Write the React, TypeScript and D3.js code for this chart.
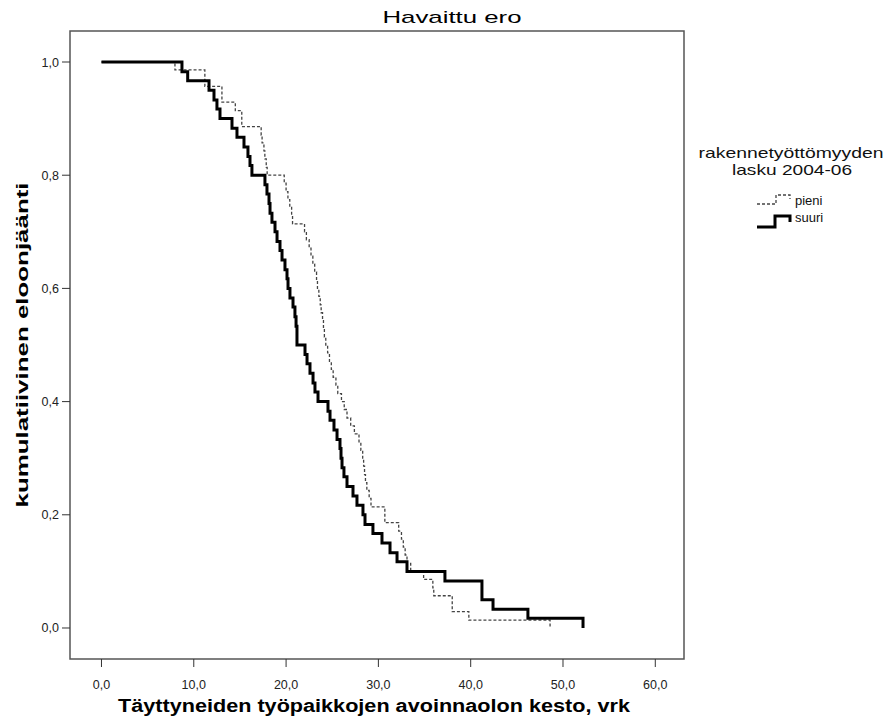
import React from "react";
import * as d3 from "d3";

// Kaplan-Meier step points: time (vrk) at which survival drops to the given value
const suuriTimes = [0, 8.72, 9.34, 11.65, 12.19, 12.51, 12.84, 14.14, 14.68, 15.44, 15.87, 16.09, 16.3, 17.71, 17.93, 18.15, 18.26, 18.47, 18.8, 19.02, 19.34, 19.56, 19.88, 20.1, 20.21, 20.42, 20.75, 20.96, 21.08, 21.18, 22.05, 22.27, 22.59, 22.92, 23.13, 23.46, 24.54, 24.76, 25.19, 25.52, 25.84, 25.95, 26.06, 26.27, 26.6, 27.25, 27.68, 28.33, 28.55, 29.41, 30.39, 31.26, 32.02, 33.1, 37.21, 41.22, 42.42, 46.2, 52.17];
const suuriSurv = [1.0, 0.983, 0.967, 0.95, 0.933, 0.917, 0.9, 0.883, 0.867, 0.85, 0.833, 0.817, 0.8, 0.783, 0.767, 0.75, 0.733, 0.717, 0.7, 0.683, 0.667, 0.65, 0.633, 0.617, 0.6, 0.583, 0.567, 0.55, 0.533, 0.5, 0.483, 0.467, 0.45, 0.433, 0.417, 0.4, 0.383, 0.367, 0.35, 0.333, 0.317, 0.3, 0.283, 0.267, 0.25, 0.233, 0.217, 0.2, 0.183, 0.167, 0.15, 0.133, 0.117, 0.1, 0.083, 0.05, 0.033, 0.017, 0.0];

const pieniTimes = [0, 7.96, 11.2, 13.05, 14.5, 15.2, 17.3, 17.4, 17.6, 17.7, 17.85, 17.95, 19.8, 20.0, 20.2, 20.4, 20.6, 20.7, 22.0, 22.2, 22.5, 22.7, 22.9, 23.1, 23.3, 23.4, 23.55, 23.7, 23.8, 23.95, 24.05, 24.15, 24.3, 24.5, 24.7, 24.9, 25.1, 25.4, 25.6, 26.0, 26.3, 26.6, 27.0, 27.4, 27.9, 28.1, 28.3, 28.4, 28.5, 28.6, 28.75, 29.0, 29.2, 30.7, 32.2, 32.5, 32.7, 32.9, 33.1, 33.5, 34.9, 35.9, 36.0, 38.0, 39.8, 48.6];
const pieniSurv = [1.0, 0.986, 0.957, 0.929, 0.914, 0.886, 0.871, 0.857, 0.843, 0.829, 0.814, 0.8, 0.786, 0.771, 0.757, 0.743, 0.729, 0.714, 0.7, 0.686, 0.671, 0.657, 0.643, 0.629, 0.614, 0.6, 0.586, 0.571, 0.557, 0.543, 0.529, 0.514, 0.5, 0.486, 0.471, 0.457, 0.443, 0.429, 0.414, 0.4, 0.386, 0.371, 0.357, 0.343, 0.329, 0.314, 0.3, 0.286, 0.271, 0.257, 0.243, 0.229, 0.214, 0.186, 0.171, 0.157, 0.143, 0.129, 0.114, 0.1, 0.086, 0.071, 0.057, 0.029, 0.014, 0.0];

const xTicks = [0, 10, 20, 30, 40, 50, 60];
const yTicks = [0, 0.2, 0.4, 0.6, 0.8, 1.0];
const legendLabels = ["pieni", "suuri"];

const fmt = (v: number) => v.toFixed(1).replace(".", ",");

export default function App() {
  const W = 890, H = 724;
  const L = 70, R = 684, T = 31, B = 659;
  const x = d3.scaleLinear().domain([-3.41, 63.11]).range([L, R]);
  const y = d3.scaleLinear().domain([-0.0548, 1.0548]).range([B, T]);
  const line = d3.line<[number, number]>().x(d => x(d[0])).y(d => y(d[1])).curve(d3.curveStepAfter);
  const suuri: [number, number][] = suuriTimes.map((t, i) => [t, suuriSurv[i]]);
  const pieni: [number, number][] = pieniTimes.map((t, i) => [t, pieniSurv[i]]);
  const font = "'Liberation Sans', Arial, sans-serif";

  return (
    <svg width={W} height={H} style={{ position: "absolute", left: 0, top: 0, background: "#fff" }} fontFamily={font}>
      <rect x={0} y={0} width={W} height={H} fill="#fff" />
      <text x={452} y={23} textAnchor="middle" fontSize={17} fill="#000" textLength={139} lengthAdjust="spacingAndGlyphs">Havaittu ero</text>
      {/* frame */}
      <rect x={L} y={T} width={R - L} height={B - T} fill="none" stroke="#555" strokeWidth={1.5} />
      {/* y ticks */}
      {yTicks.map(v => (
        <g key={"y" + v}>
          <line x1={L - 8} x2={L} y1={y(v)} y2={y(v)} stroke="#333" strokeWidth={1} />
          <text x={L - 11} y={y(v) + 4.5} textAnchor="end" fontSize={12.5} fill="#222">{fmt(v)}</text>
        </g>
      ))}
      {/* x ticks */}
      {xTicks.map(v => (
        <g key={"x" + v}>
          <line x1={x(v)} x2={x(v)} y1={B} y2={B + 8} stroke="#333" strokeWidth={1} />
          <text x={x(v)} y={B + 30} textAnchor="middle" fontSize={12.5} fill="#222">{fmt(v)}</text>
        </g>
      ))}
      <text x={374} y={712} textAnchor="middle" fontSize={18} fontWeight="bold" fill="#000" textLength={512} lengthAdjust="spacingAndGlyphs">Täyttyneiden työpaikkojen avoinnaolon kesto, vrk</text>
      <text transform={`translate(28,345) rotate(-90)`} textAnchor="middle" fontSize={17} fontWeight="bold" fill="#000" textLength={325} lengthAdjust="spacingAndGlyphs">kumulatiivinen eloonjäänti</text>
      {/* curves */}
      <path d={line(pieni) || ""} fill="none" stroke="#444" strokeWidth={1.3} strokeDasharray="3,2" />
      <path d={line(suuri) || ""} fill="none" stroke="#000" strokeWidth={3} />
      {/* legend */}
      <text x={791} y={158} textAnchor="middle" fontSize={15} fill="#111" textLength={185} lengthAdjust="spacingAndGlyphs">rakennetyöttömyyden</text>
      <text x={792} y={175} textAnchor="middle" fontSize={15} fill="#111" textLength={120} lengthAdjust="spacingAndGlyphs">lasku 2004-06</text>
      <path d="M757,204 H776 V195 H790 V199" fill="none" stroke="#444" strokeWidth={1.3} strokeDasharray="3,2" />
      <path d="M757,227 H775 V216 H790 V222" fill="none" stroke="#000" strokeWidth={3} />
      <text x={795} y={205} fontSize={13} fill="#111">{legendLabels[0]}</text>
      <text x={795} y={222} fontSize={13} fill="#111">{legendLabels[1]}</text>
    </svg>
  );
}
